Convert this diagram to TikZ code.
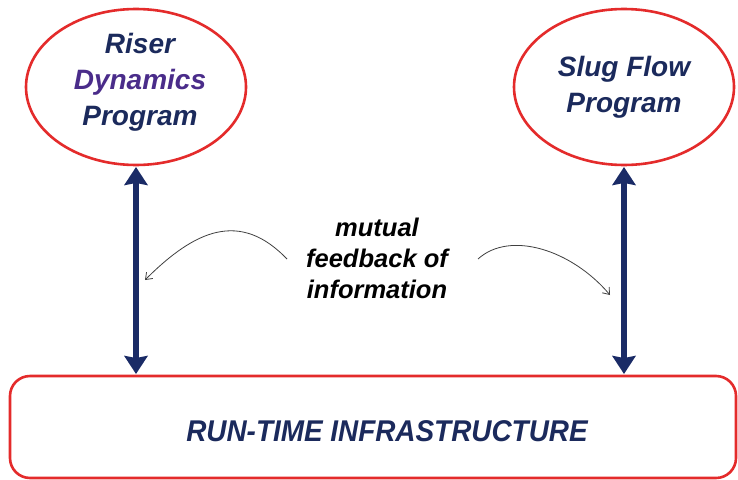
\documentclass[tikz,border=0pt]{standalone}
\usepackage{fontspec}
\setmainfont{Liberation Sans}
\usetikzlibrary{arrows.meta,shapes.geometric}
\definecolor{redline}{HTML}{E42B2B}
\definecolor{navytext}{HTML}{1B2A5C}
\definecolor{purpletext}{HTML}{4A2C8A}
\definecolor{navyarrow}{HTML}{1A2B66}
\begin{document}
\begin{tikzpicture}[x=1pt,y=-1pt,
  progellipse/.style={draw=redline,line width=2.6pt,ellipse,minimum width=220pt,minimum height=156pt,inner sep=0pt},
  bigtext/.style={font=\fontsize{28}{36}\selectfont\bfseries\itshape,text=navytext,align=center},
  midtext/.style={font=\fontsize{25.5}{31}\selectfont\bfseries\itshape,text=black,align=center},
  linkarrow/.style={line width=6pt,draw=navyarrow,{Stealth[length=18pt,width=23pt,inset=2pt]}-{Stealth[length=18pt,width=23pt,inset=2pt]},shorten <=1pt,shorten >=1pt},
  feedarrow/.style={draw=black!75,line width=0.8pt,-{Straight Barb[length=6pt,width=9pt]}}
]
\useasboundingbox (0,0) rectangle (738,479);
\fill[white] (0,0) rectangle (738,479);
% ellipses
\node[progellipse] (riser) at (136,87) {};
\node[progellipse] (slug) at (624,87) {};
\node[bigtext] (risertext) at (140,82) {Riser\\\textcolor{purpletext}{Dynamics}\\Program};
\node[bigtext] (slugtext) at (624,87) {Slug Flow\\Program};
% infrastructure box
\node[draw=redline,line width=2.6pt,rounded corners=20pt,minimum width=726pt,minimum height=102pt,inner sep=0pt] (rti) at (373,427) {};
\node[font=\fontsize{30}{36}\selectfont\bfseries\itshape,text=navytext,xscale=0.93] (rtitext) at (387,431) {RUN-TIME INFRASTRUCTURE};
% vertical arrows
\coordinate (lt) at (136,166);
\coordinate (lb) at (136,375);
\coordinate (rt) at (624,166);
\coordinate (rb) at (624,375);
\draw[linkarrow] (lt) -- (lb);
\draw[linkarrow] (rt) -- (rb);
% middle text
\node[midtext] (mutual) at (377,258) {mutual\\feedback of\\information};
% feedback curves
\coordinate (fl0) at (287,259);
\coordinate (fl1) at (145,280);
\coordinate (fr0) at (478,259);
\coordinate (fr1) at (610,295);
\draw[feedarrow] (fl0) .. controls (240,210) and (195,230) .. (fl1);
\draw[feedarrow] (fr0) .. controls (510,230) and (572,250) .. (fr1);
\end{tikzpicture}
\end{document}
